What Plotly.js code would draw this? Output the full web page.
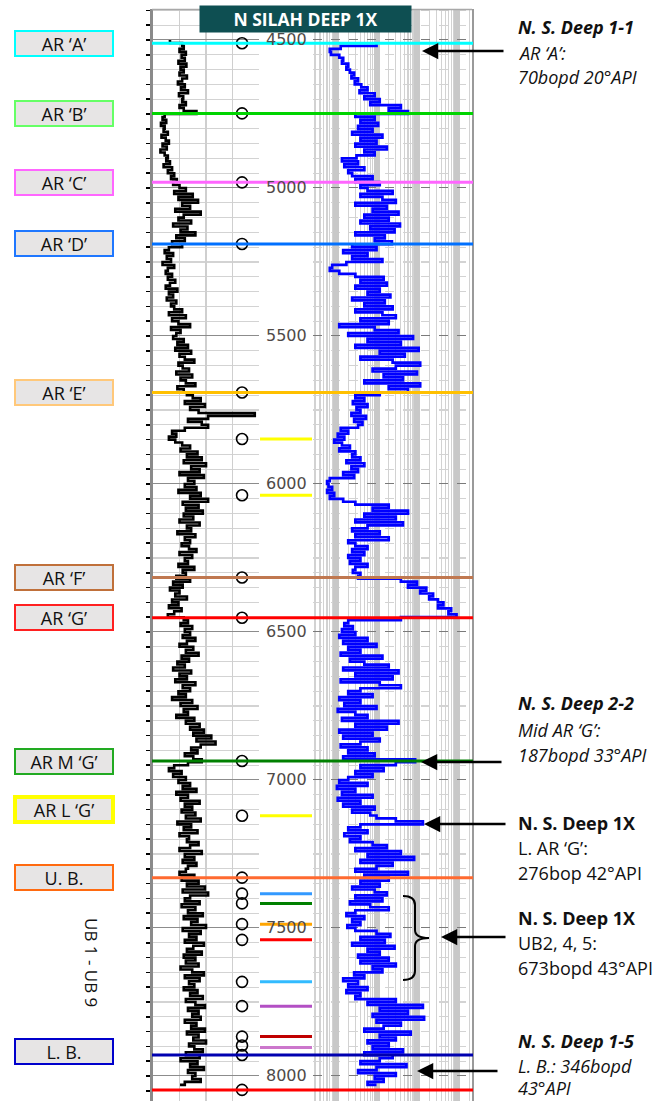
<!DOCTYPE html>
<html><head><meta charset="utf-8">
<script src="https://cdn.plot.ly/plotly-3.0.1.min.js"></script>
<style>html,body{margin:0;padding:0;background:#fff}</style>
</head><body>
<div id="chart" style="width:662px;height:1101px"></div>
<script>
// ---------- DATA ----------
const startDepth = 4500;   // ft, first log sample
const sampleStep = 10;     // ft between log samples

// Gamma ray (API), one value per 10 ft from 4500 ft
const grValues = [
 32,55,58,50,62,54,60,48,63,52,
 58,50,64,55,47,60,53,66,49,57,
 55,62,50,58,82,22,18,25,15,22,
 20,28,16,24,30,18,26,14,22,28,
 25,32,20,36,28,40,34,45,38,50,
 62,40,75,48,85,55,70,42,90,58,
 48,72,38,65,52,80,44,60,36,55,
 30,22,38,26,34,18,40,28,24,36,
 28,42,32,24,46,30,38,26,44,34,
 40,55,30,62,36,48,70,34,52,44,
 38,58,46,66,42,72,50,60,78,48,
 56,68,44,74,52,62,80,46,58,64,
 75,90,60,98,70,86,192,104,66,92,
 104,60,36,44,30,42,55,70,52,84,
 64,92,58,100,72,88,50,96,66,78,
 60,82,48,90,70,104,56,86,62,94,
 58,76,50,88,64,72,46,80,60,70,
 54,68,82,50,74,60,66,48,78,56,
 62,44,70,38,56,32,50,42,64,36,
 48,30,54,40,28,58,66,52,74,60,
 70,56,80,64,50,76,62,86,54,68,
 46,60,38,72,50,64,42,80,56,70,
 48,62,36,74,52,84,58,66,44,78,
 62,88,70,96,76,110,82,118,90,72,
 84,60,76,92,66,40,30,54,38,62,
 48,70,56,82,44,66,52,88,60,74,
 54,80,62,90,46,72,58,84,50,68,
 64,86,70,50,92,60,78,56,82,66,
 62,50,78,54,86,64,98,56,104,70,
 60,88,54,80,66,94,58,84,72,100,
 56,90,68,82,60,96,76,64,92,58,
 80,62,86,52,74,96,60,88,68,78,
 58,84,70,94,62,80,98,66,86,74,
 90,60,82,72,98,64,86,76,100,68,
 78,94,62,88,52,84,70,96,66,80,
 74,90,60,51
];

// Resistivity (ohm-m), one value per 10 ft from 4500 ft
const resValues = [
 null,10,1.3,0.7,0.75,1.2,1.5,1.4,2.0,1.8,
 2.2,2.8,2.4,3.5,2.9,4.2,6,3.8,9,5,
 12,7,40,20,60,3,9,4,11,3.5,
 8,2.5,14,4,10,3,18,5,9,3.2,
 1.4,3.5,1.6,5,2.0,2.5,8,3,12,4,
 6,25,4,14,30,3,18,8,35,5,
 20,4,38,7,28,3,16,9,24,2.5,
 10,1.5,6,2.5,14,1.8,0.8,0.7,1.2,3,
 15,4,18,3,12,6,22,2.5,16,5,
 25,3,14,30,4,20,1.2,9,35,2,
 80,6,40,3,110,12,50,4,25,120,
 30,8,100,15,45,5,120,20,60,12,
 3,5,2.6,6,3.2,4,2.4,5.5,2.8,4.5,
 3.5,1.3,2.0,1.1,1.6,0.9,1.4,2.2,1.2,3,
 2.5,4,1.8,5,2.4,3.5,1.5,2.8,0.7,0.6,
 0.65,0.8,0.6,0.9,0.7,1.5,3,20,8,60,
 5,30,3,45,6,2.5,12,3,20,2,
 3,6,2.5,5,2,4,2.2,6,3,2.6,
 4,3.5,40,100,60,170,120,250,200,330,
 450,330,700,600,950,40,2.0,1.6,2.6,1.4,
 3,1.2,6,1.5,10,2,4,1.3,14,2.2,
 5,20,1.5,35,3,25,1.3,12,40,4,
 2,8,1.2,4,1.6,10,1.1,3,6,1.4,
 35,3,18,1.2,8,1.5,12,4,1.3,6,
 2,9,1.5,90,30,4,15,3,8,2,
 1.2,6,1.05,3,1.4,8,1.1,4,1.5,9,
 2.5,7,10,30,140,4,2,6,1.6,4,
 2.2,8,18,3,40,6,85,4,25,10,
 3,60,5,20,4,12,2.5,9,18,3,
 14,2.2,7,20,3,1.8,5,2.5,4,1.9,
 3,10,22,4,16,2.5,28,6,12,3.5,
 20,4,30,8,14,2.8,5,1.5,3.5,2,
 6,1.8,4,3,30,6,140,12,60,8,
 150,10,40,15,5,70,12,30,6,20,
 8,45,5,25,12,4,55,10,3.5,30,
 9,15,6,10
];

// Formation tops drawn across all tracks
const topDepths = [4511,4748,4981,5189,5691,6316,6452,6936,7330,7929,8047];
const topColors = ['#00ffff','#00d400','#ff66ff','#0070ff','#ffc000','#c07850','#ff0000','#008000','#ff6a30','#0000b0','#ff0000'];

// Short markers in the depth track
const markDepths = [5848,6038,7121,7384,7417,7487,7540,7682,7764,7867,7904];
const markColors = ['#ffff00','#ffff00','#ffff00','#3399ff','#008000','#ffa500','#ff0000','#33bbff','#b34fc4','#c00000','#cc77cc'];

// Perforation circles
const perfDepths = [4511,4748,4981,5189,5691,5848,6038,6316,6452,6936,7121,7330,7384,7417,7487,7540,7682,7764,7867,7897,7929,8047];

// Zone labels on the left
const zoneNames  = ['AR ‘A’','AR ‘B’','AR ‘C’','AR ‘D’','AR ‘E’','AR ‘F’','AR ‘G’','AR M ‘G’','AR L ‘G’','U. B.','L. B.'];
const zoneDepths = [4511,4748,4981,5189,5691,6316,6452,6936,7121,7330,7929];
const zoneColors = ['#00ffff','#66ff66','#ff66ff','#1f77ff','#ffc87a','#c0703a','#ff2020','#22aa22','#ffff00','#ff6a10','#0000cc'];

// Depth tick labels
const depthTicks = [4500,5000,5500,6000,6500,7000,7500,8000];

// Well test notes on the right
const notes = [
  {lines:['N. S. Deep 1-1','AR ‘A’:','70bopd 20°API'], style:['bi','i','i']},
  {lines:['N. S. Deep 2-2','Mid AR ‘G’:','187bopd 33°API'], style:['bi','i','i']},
  {lines:['N. S. Deep 1X','L. AR ‘G’:','276bop 42°API'], style:['b','','']},
  {lines:['N. S. Deep 1X','UB2, 4, 5:','673bopd 43°API'], style:['b','','']},
  {lines:['N. S. Deep 1-5','L. B.: 346bopd','43°API'], style:['bi','i','i']}
];
const titleText = 'N SILAH DEEP 1X';
const sideLabel = 'UB 1 - UB 9';

// ---------- LAYOUT HELPERS ----------
const W = 662, H = 1101;
const X = p => p / W;
const Y = p => 1 - p / H;
const FONT = 'Open Sans, Noto Sans, sans-serif';
const dom = [0, Y(9)];

const logMinor = [];
[0.1,1,10,100,1000].forEach(d => { for (let k=2;k<=9;k++) logMinor.push(k*d); });

const traces = [
  {type:'scatter', mode:'lines', x:grValues, y0:startDepth, dy:sampleStep,
   xaxis:'x', yaxis:'y', line:{color:'#000', width:2.6, shape:'vh'}, hoverinfo:'skip'},
  {type:'scatter', mode:'lines', x:resValues, y0:startDepth, dy:sampleStep,
   xaxis:'x3', yaxis:'y3', line:{color:'#0000ff', width:2.7, shape:'vh'}, connectgaps:false, hoverinfo:'skip'},
  {type:'scatter', mode:'markers', x:perfDepths.map(()=>168), y:perfDepths,
   xaxis:'x', yaxis:'y', marker:{symbol:'circle-open', size:11, color:'#000', line:{width:1.6, color:'#000'}}, hoverinfo:'skip'}
];

const shapes = [];
topDepths.forEach((d,i) => shapes.push({type:'line', xref:'paper', yref:'y', x0:X(152), x1:X(473), y0:d, y1:d,
  line:{color:topColors[i], width:3}}));
markDepths.forEach((d,i) => shapes.push({type:'line', xref:'paper', yref:'y', x0:X(260), x1:X(312), y0:d, y1:d,
  line:{color:markColors[i], width:3}}));
// top border of the log grid
shapes.push({type:'line', xref:'paper', yref:'paper', x0:X(152), x1:X(472), y0:Y(9.5), y1:Y(9.5), line:{color:'#a8a8a8', width:1.5}});
// bracket for UB2,4,5
const bp = (x,y)=> X(x).toFixed(5)+','+Y(y).toFixed(5);
shapes.push({type:'path', xref:'paper', yref:'paper',
  path:'M'+bp(403,896)+' Q'+bp(415,896)+' '+bp(415,905)+' L'+bp(415,930)+' Q'+bp(415,938)+' '+bp(429,938)+
       ' Q'+bp(415,938)+' '+bp(415,946)+' L'+bp(415,971)+' Q'+bp(415,980)+' '+bp(403,980),
  line:{color:'#000', width:2}});

const annotations = [];
// depth labels in depth track
depthTicks.forEach(d => annotations.push({xref:'paper', yref:'y', x:X(264), y:d, xanchor:'left', yanchor:'middle',
  text:String(d), showarrow:false, font:{family:'DejaVu Sans', size:16, color:'#4f4a48'}}));

annotations.push({xref:'paper', yref:'paper', x:X(305.5), y:Y(19), xanchor:'center', yanchor:'middle',
  text:'<b>'+titleText+'</b>', showarrow:false,
  font:{family:FONT, size:17.5, color:'#fff'}, bgcolor:'#0e4f52', width:207, height:22, borderpad:2});

zoneNames.forEach((n,i) => annotations.push({xref:'paper', yref:'y', x:X(64), y:zoneDepths[i], xanchor:'center', yanchor:'middle',
  text:n, showarrow:false,
  font:{family:FONT, size:18, color:'#111'}, bgcolor:'#e7e5e5', bordercolor:zoneColors[i],
  borderwidth: n==='AR L ‘G’' ? 4 : 2, width: n==='AR L ‘G’' ? 94 : 96, height: n==='AR L ‘G’' ? 21 : 23, borderpad:0,
  yshift: n==='AR L ‘G’' ? 6 : (n==='L. B.' ? 3 : 0)}));

annotations.push({xref:'paper', yref:'paper', x:X(92), y:Y(962), xanchor:'center', yanchor:'middle',
  text:sideLabel, textangle:90, showarrow:false, font:{family:FONT, size:17, color:'#111'}});

const noteY = [[27,53,77],[703,730,755],[823,848,873],[918,943,968],[1041,1066,1088]];
const arrows = [[422,505,51],[421,503,762],[424,507,824],[441,507,937],[417,499,1071]];
notes.forEach((nt,g) => {
  nt.lines.forEach((t,k) => {
    const s = nt.style[k];
    let txt = t;
    if (s.includes('i')) txt = '<i>'+txt+'</i>';
    if (s.includes('b')) txt = '<b>'+txt+'</b>';
    annotations.push({xref:'paper', yref:'paper', x:X(516), y:Y(noteY[g][k]), xanchor:'left', yanchor:'middle', text:txt,
      showarrow:false, font:{family:FONT, size:18, color:'#111'}});
  });
  const a = arrows[g];
  annotations.push({xref:'paper', yref:'paper', x:X(a[0]), y:Y(a[2]), ax:a[1]-a[0], ay:0, text:'',
    showarrow:true, arrowhead:2, arrowsize:1.3, arrowwidth:2.5, arrowcolor:'#000', standoff:0});
});

const yCommon = {domain:dom, tick0:4500, dtick:500, zeroline:false, showticklabels:false, fixedrange:true};

const layout = {
  width:W, height:H, margin:{l:0,r:0,t:0,b:0}, paper_bgcolor:'#fff', plot_bgcolor:'#fff', showlegend:false,
  xaxis:{domain:[X(153),X(259)], range:[0,200], dtick:50, tick0:0, showgrid:true, gridcolor:'#cfcfcf', gridwidth:1.5,
         zeroline:false, showticklabels:false, ticks:'', anchor:'y', fixedrange:true},
  yaxis:Object.assign({}, yCommon, {range:[8084.5,4395.3], anchor:'x', showgrid:true, gridcolor:'#8c8c8c', gridwidth:1,
         ticks:'outside', ticklen:4, tickcolor:'#000', tickwidth:1.5, showline:true, linecolor:'#8a8a8a', linewidth:3,
         minor:{tick0:4500, dtick:50, showgrid:true, gridcolor:'#d3d3d3', gridwidth:1.2, ticks:'outside', ticklen:4, tickcolor:'#000', tickwidth:1.5}}),
  xaxis2:{domain:[X(259),X(313)], range:[0,1], showgrid:false, zeroline:false, showticklabels:false, ticks:'', anchor:'y2', fixedrange:true},
  yaxis2:Object.assign({}, yCommon, {matches:'y', anchor:'x2',
         showgrid:true, gridcolor:'#8c8c8c', ticks:'inside', ticklen:4, tickwidth:1.5, tickcolor:'#000',
         showline:true, linecolor:'#000', linewidth:2, mirror:'ticks',
         minor:{tick0:4500, dtick:50, ticks:'inside', ticklen:4, tickwidth:1.5, tickcolor:'#000', showgrid:false}}),
  xaxis3:{type:'log', domain:[X(313),X(472)], range:[-0.57,3.36], tickmode:'array', tickvals:[1,10,100,1000],
          showgrid:true, gridcolor:'#c8c8c8', gridwidth:6, showticklabels:false, ticks:'', zeroline:false, anchor:'y3', fixedrange:true,
          minor:{tickmode:'array', tickvals:logMinor, showgrid:true, gridcolor:'#d2d2d2', gridwidth:1.2, ticks:''}},
  yaxis3:Object.assign({}, yCommon, {matches:'y', anchor:'x3', side:'right', showgrid:true, gridcolor:'#7a7a7a', griddash:'dash',
         ticks:'', showline:true, linecolor:'#9a9a9a', linewidth:1.5,
         minor:{tick0:4500, dtick:50, showgrid:true, gridcolor:'#d3d3d3', gridwidth:1.2, ticks:''}}),
  shapes:shapes, annotations:annotations
};

Plotly.newPlot('chart', traces, layout, {staticPlot:true, displayModeBar:false});
</script>
</body></html>
